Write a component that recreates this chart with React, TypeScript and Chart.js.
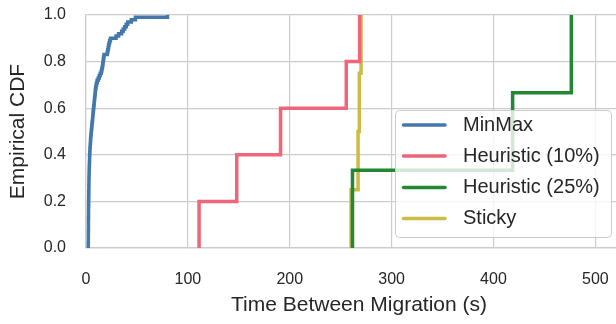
import { useEffect, useRef } from "react";
import { Chart, registerables } from "chart.js";

Chart.register(...registerables);

const seriesNames = ["MinMax", "Heuristic (10%)", "Heuristic (25%)", "Sticky"];
const seriesColors = ["#4477AA", "#EE6677", "#228833", "#CCBB44"];

// Raw time-between-migration samples (s)
const minMaxTimes = [
  2.2, 2.2, 2.3, 2.3, 2.3, 2.3, 2.3, 2.4, 2.4, 2.4,
  2.4, 2.4, 2.4, 2.5, 2.5, 2.5, 2.5, 2.5, 2.6, 2.6,
  2.6, 2.7, 2.7, 2.7, 2.8, 2.8, 2.8, 2.9, 2.9, 2.9,
  3.0, 3.0, 3.1, 3.1, 3.2, 3.3, 3.4, 3.5, 3.5, 3.6,
  3.7, 3.8, 3.9, 4.1, 4.2, 4.4, 4.5, 4.7, 4.9, 5.1,
  5.3, 5.6, 5.8, 6.0, 6.3, 6.5, 6.7, 6.9, 7.1, 7.4,
  7.6, 7.9, 8.1, 8.3, 8.5, 8.8, 9.0, 9.2, 9.5, 9.9,
  10.4, 11.0, 12.0, 13.0, 14.0, 15.0, 15.5, 16.0, 16.4, 16.7,
  17.0, 17.3, 17.7, 20.8, 21.3, 21.8, 22.2, 22.6, 23.2, 24.0,
  29.5, 32.0, 35.0, 36.5, 38.0, 39.5, 41.0, 44.5, 48.5, 80.0,
];
const heuristic10Times = [111.0, 148.0, 191.0, 255.5, 268.6];
const heuristic25Times = [261.6, 418.8, 476.4];
const stickyTimes = [260.2, 267.1, 268.3, 270.0];

const xTicks = [0, 100, 200, 300, 400, 500];
const yTicks = [0, 0.2, 0.4, 0.6, 0.8, 1.0];

const xTitle = "Time Between Migration (s)";
const yTitle = "Empirical CDF";

function ecdf(times: number[]) {
  const sorted = [...times].sort((a, b) => a - b);
  const n = sorted.length;
  const pts: { x: number; y: number }[] = [{ x: sorted[0], y: 0 }];
  sorted.forEach((t, i) => pts.push({ x: t, y: (i + 1) / n }));
  return pts;
}

const FONT = "'Liberation Sans', Arial, sans-serif";
const TEXT = "#262626";
const GRID = "#cccccc";

const legendPlugin = {
  id: "insideLegend",
  afterDraw(chart: any) {
    const ctx: CanvasRenderingContext2D = chart.ctx;
    ctx.save();
    const x = 395.5, y = 110.5, w = 216, h = 127, r = 4;
    ctx.beginPath();
    ctx.moveTo(x + r, y);
    ctx.lineTo(x + w - r, y);
    ctx.arcTo(x + w, y, x + w, y + r, r);
    ctx.lineTo(x + w, y + h - r);
    ctx.arcTo(x + w, y + h, x + w - r, y + h, r);
    ctx.lineTo(x + r, y + h);
    ctx.arcTo(x, y + h, x, y + h - r, r);
    ctx.lineTo(x, y + r);
    ctx.arcTo(x, y, x + r, y, r);
    ctx.closePath();
    ctx.fillStyle = "rgba(255,255,255,0.8)";
    ctx.fill();
    ctx.strokeStyle = GRID;
    ctx.lineWidth = 1;
    ctx.stroke();

    const rows = [125, 156, 187.5, 218.5];
    ctx.font = `20px ${FONT}`;
    ctx.textBaseline = "middle";
    ctx.textAlign = "left";
    seriesNames.forEach((name, i) => {
      ctx.beginPath();
      ctx.strokeStyle = seriesColors[i];
      ctx.lineWidth = 3.5;
      ctx.lineCap = "round";
      ctx.moveTo(403.5, rows[i]);
      ctx.lineTo(445, rows[i]);
      ctx.stroke();
      ctx.fillStyle = TEXT;
      ctx.fillText(name, 463, rows[i]);
    });
    ctx.restore();
  },
};

export default function App() {
  const ref = useRef<HTMLCanvasElement>(null);

  useEffect(() => {
    if (!ref.current) return;
    const allTimes = [minMaxTimes, heuristic10Times, heuristic25Times, stickyTimes];
    const drawOrder = [3, 1, 0, 2];
    const chart = new Chart(ref.current, {
      type: "line",
      data: {
        datasets: allTimes.map((times, i) => ({
          label: seriesNames[i],
          data: ecdf(times),
          borderColor: seriesColors[i],
          backgroundColor: seriesColors[i],
          borderWidth: 3.5,
          pointRadius: 0,
          stepped: true,
          fill: false,
          tension: 0,
          order: drawOrder[i],
        })),
      },
      options: {
        responsive: false,
        animation: false,
        events: [],
        layout: { padding: { top: 15, right: 0, left: 0, bottom: 0 } },
        plugins: {
          legend: { display: false },
          tooltip: { enabled: false },
        },
        scales: {
          x: {
            type: "linear",
            min: 0,
            max: 536,
            afterBuildTicks: (s: any) => {
              s.ticks = xTicks.map((v) => ({ value: v }));
            },
            afterFit: (s: any) => {
              s.height = 76;
              s.paddingLeft = 0;
              s.paddingRight = 0;
            },
            grid: { color: GRID, lineWidth: 1.2, drawTicks: false },
            border: { color: GRID, width: 1.2 },
            ticks: {
              padding: 22,
              color: TEXT,
              font: { family: FONT, size: 16 },
              maxRotation: 0,
              callback: (v: any) => String(v),
            },
            title: {
              display: true,
              text: xTitle,
              color: TEXT,
              font: { family: FONT, size: 21 },
              padding: { top: 0, bottom: 6 },
            },
          },
          y: {
            type: "linear",
            min: 0,
            max: 1,
            afterBuildTicks: (s: any) => {
              s.ticks = yTicks.map((v) => ({ value: v }));
            },
            afterFit: (s: any) => {
              s.width = 86;
              s.paddingTop = 0;
              s.paddingBottom = 0;
            },
            grid: { color: GRID, lineWidth: 1.2, drawTicks: false },
            border: { color: GRID, width: 1.2 },
            ticks: {
              padding: 20,
              color: TEXT,
              font: { family: FONT, size: 16 },
              callback: (v: any) => Number(v).toFixed(1),
            },
            title: {
              display: true,
              text: yTitle,
              color: TEXT,
              font: { family: FONT, size: 21 },
              padding: { top: 6, bottom: 0 },
            },
          },
        },
      },
      plugins: [legendPlugin],
    });
    return () => chart.destroy();
  }, []);

  return (
    <div
      style={{
        position: "fixed",
        left: 0,
        top: 0,
        width: 616,
        height: 324,
        overflow: "hidden",
        background: "#fff",
      }}
    >
      <canvas ref={ref} width={632} height={324} style={{ display: "block" }} />
    </div>
  );
}
